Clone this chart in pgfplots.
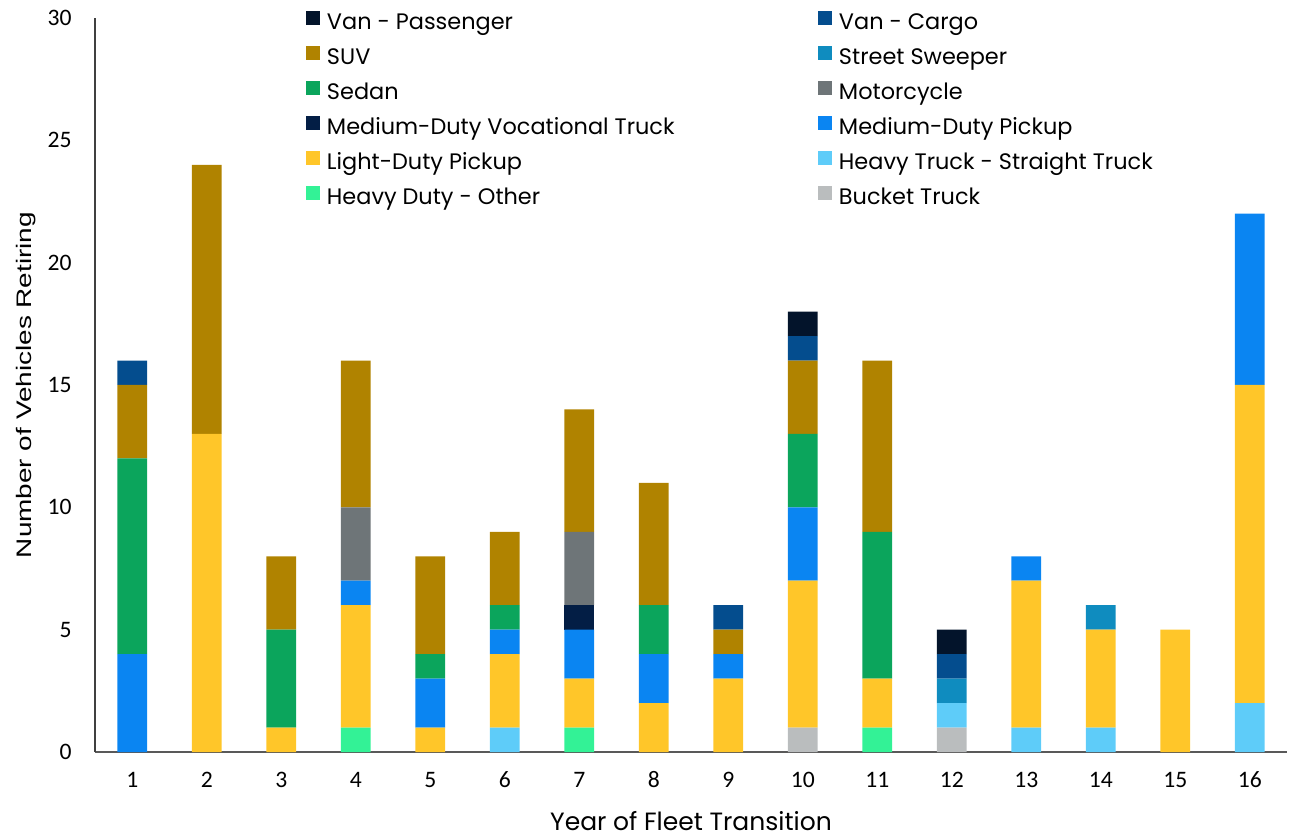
\documentclass[border=0pt]{standalone}
\usepackage{pgfplots}
\pgfplotsset{compat=1.18}
\usepackage{pgfplotstable}
\usepackage{fontspec}
\setmainfont{Carlito}
\newfontfamily\legfont{Poppins}
\newfontfamily\labfont{Liberation Sans}

\definecolor{cBucket}{HTML}{BABDBE}
\definecolor{cHDO}{HTML}{33F296}
\definecolor{cHTST}{HTML}{5ECCF9}
\definecolor{cLDP}{HTML}{FFC629}
\definecolor{cMDP}{HTML}{0A85F2}
\definecolor{cMDVT}{HTML}{031E45}
\definecolor{cMoto}{HTML}{6E7578}
\definecolor{cSedan}{HTML}{0BA55C}
\definecolor{cSS}{HTML}{0F8CBF}
\definecolor{cSUV}{HTML}{B08300}
\definecolor{cVC}{HTML}{044D8E}
\definecolor{cVP}{HTML}{03142B}

% vehicles retiring per year, by vehicle type
\pgfplotstableread{
yr Bucket HDO HTST LDP MDP MDVT Moto Sedan SS SUV VC VP
1  0 0 0 0  4 0 0 8 0 3  1 0
2  0 0 0 13 0 0 0 0 0 11 0 0
3  0 0 0 1  0 0 0 4 0 3  0 0
4  0 1 0 5  1 0 3 0 0 6  0 0
5  0 0 0 1  2 0 0 1 0 4  0 0
6  0 0 1 3  1 0 0 1 0 3  0 0
7  0 1 0 2  2 1 3 0 0 5  0 0
8  0 0 0 2  2 0 0 2 0 5  0 0
9  0 0 0 3  1 0 0 0 0 1  1 0
10 1 0 0 6  3 0 0 3 0 3  1 1
11 0 1 0 2  0 0 0 6 0 7  0 0
12 1 0 1 0  0 0 0 0 1 0  1 1
13 0 0 1 6  1 0 0 0 0 0  0 0
14 0 0 1 4  0 0 0 0 1 0  0 0
15 0 0 0 5  0 0 0 0 0 0  0 0
16 0 0 2 13 7 0 0 0 0 0  0 0
}\fleet

\pgfplotsset{
  sqlegend/.style={legend image code/.code={\fill[##1] (0pt,-0.5pt) rectangle (7pt,6.5pt);}},
}
\newcommand\lcol[1]{\makebox[242pt][l]{#1}}

\begin{document}
\begin{tikzpicture}
\useasboundingbox (-47.5pt,-42pt) rectangle (598pt,376pt);
\begin{axis}[
  scale only axis,
  width=596pt, height=367pt,
  xmin=0.5, xmax=16.5, ymin=0, ymax=30,
  ybar stacked, bar width=0.40,
  axis x line*=bottom, axis y line*=left,
  x axis line style={draw=black!65, line width=1pt},
  y axis line style={draw=black!75, line width=0.6pt},
  major tick length=0pt,
  xtick={1,...,16}, ytick={0,5,...,30},
  /pgf/number format/assume math mode=true,
  tick label style={font=\fontsize{11.8}{13}\selectfont, inner sep=0pt},
  xticklabel style={anchor=base, yshift=-17.75pt},
  yticklabel style={anchor=east, xshift=-11.5pt},
  every axis x label/.style={at={(axis description cs:0.5,0)}, anchor=base, yshift=-39pt,
    font=\legfont\fontsize{12.5}{14}\selectfont},
  every axis y label/.style={at={(axis description cs:-0.0579,0.5)}, anchor=center, rotate=90,
    font=\labfont\fontsize{10.5}{12}\selectfont},
  xlabel={Year of Fleet Transition},
  ylabel={\scalebox{1.33}[1]{Number of Vehicles Retiring}},
  reverse legend,
  legend columns=2,
  legend style={at={(axis description cs:0.177,1)}, anchor=north west, yshift=3.5pt,
    draw=none, fill=none, inner sep=0pt, outer sep=0pt,
    font=\legfont\fontsize{11.2}{12}\selectfont,
    row sep=6.25pt, column sep=3.5pt,
    nodes={inner sep=0pt, text height=7.5pt, text depth=2pt}},
  legend cell align=left,
]
\addplot[fill=cBucket, draw=none, sqlegend] table[x=yr, y=Bucket] {\fleet};
\addlegendentry{Bucket Truck}
\addplot[fill=cHDO, draw=none, sqlegend] table[x=yr, y=HDO] {\fleet};
\addlegendentry{\lcol{Heavy Duty - Other}}
\addplot[fill=cHTST, draw=none, sqlegend] table[x=yr, y=HTST] {\fleet};
\addlegendentry{Heavy Truck - Straight Truck}
\addplot[fill=cLDP, draw=none, sqlegend] table[x=yr, y=LDP] {\fleet};
\addlegendentry{\lcol{Light-Duty Pickup}}
\addplot[fill=cMDP, draw=none, sqlegend] table[x=yr, y=MDP] {\fleet};
\addlegendentry{Medium-Duty Pickup}
\addplot[fill=cMDVT, draw=none, sqlegend] table[x=yr, y=MDVT] {\fleet};
\addlegendentry{\lcol{Medium-Duty Vocational Truck}}
\addplot[fill=cMoto, draw=none, sqlegend] table[x=yr, y=Moto] {\fleet};
\addlegendentry{Motorcycle}
\addplot[fill=cSedan, draw=none, sqlegend] table[x=yr, y=Sedan] {\fleet};
\addlegendentry{\lcol{Sedan}}
\addplot[fill=cSS, draw=none, sqlegend] table[x=yr, y=SS] {\fleet};
\addlegendentry{Street Sweeper}
\addplot[fill=cSUV, draw=none, sqlegend] table[x=yr, y=SUV] {\fleet};
\addlegendentry{\lcol{SUV}}
\addplot[fill=cVC, draw=none, sqlegend] table[x=yr, y=VC] {\fleet};
\addlegendentry{Van - Cargo}
\addplot[fill=cVP, draw=none, sqlegend] table[x=yr, y=VP] {\fleet};
\addlegendentry{\lcol{Van - Passenger}}
\end{axis}
\end{tikzpicture}
\end{document}
